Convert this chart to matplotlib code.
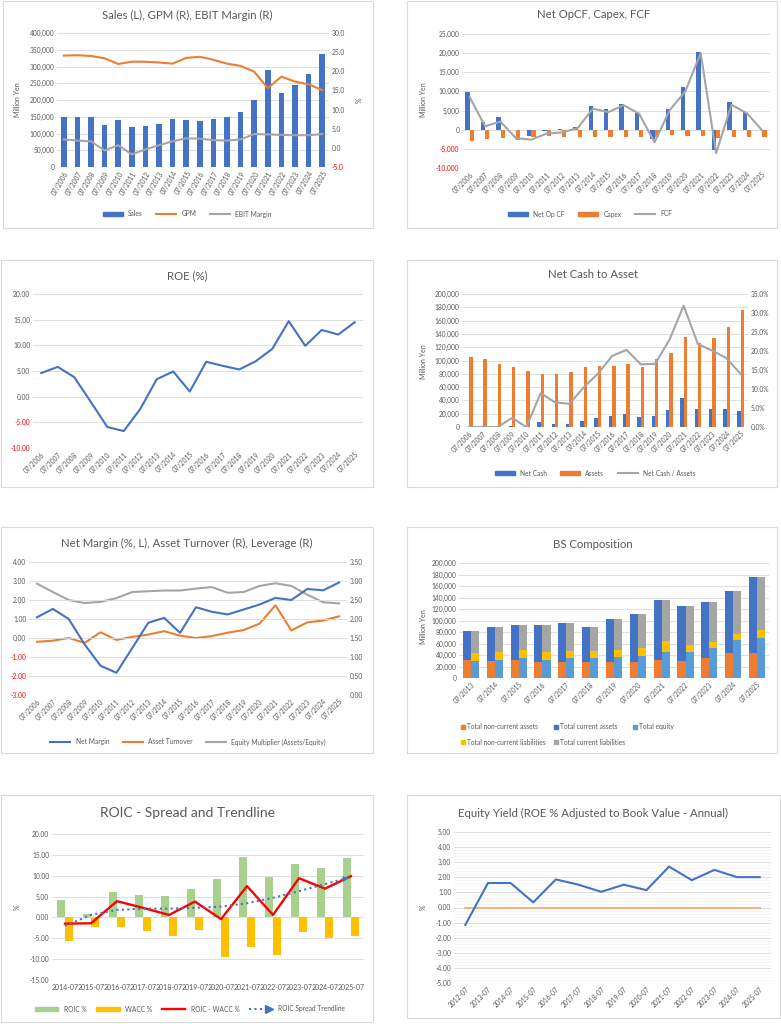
import numpy as np
import matplotlib
matplotlib.use('Agg')
import matplotlib.pyplot as plt
from matplotlib.patches import Rectangle, Patch
from matplotlib.lines import Line2D
from matplotlib.ticker import MultipleLocator
from matplotlib.legend_handler import HandlerBase

plt.rcParams['font.family'] = ['Lato', 'DejaVu Sans']

# ---- data ----
years = ['07/2006', '07/2007', '07/2008', '07/2009', '07/2010', '07/2011', '07/2012',
         '07/2013', '07/2014', '07/2015', '07/2016', '07/2017', '07/2018', '07/2019',
         '07/2020', '07/2021', '07/2022', '07/2023', '07/2024', '07/2025']

sales = [150000, 148000, 148000, 126000, 141000, 118000, 121000, 128000, 144000, 140000,
         138000, 144000, 150000, 164000, 200000, 291000, 222000, 246000, 277000, 337000]
gpm = [24.1, 24.2, 24.0, 23.4, 21.9, 22.5, 22.5, 22.3, 22.0, 23.5,
       23.8, 23.0, 22.0, 21.4, 19.9, 15.6, 18.6, 17.3, 16.6, 15.1]
ebit_margin = [2.2, 1.9, 1.7, -0.7, 0.7, -1.7, -0.4, 0.7, 1.7, 2.5,
               2.4, 2.0, 1.9, 2.2, 3.6, 3.5, 3.4, 3.3, 3.3, 3.6]

net_op_cf = [9900, 2000, 3300, 0, -1600, -300, 200, 600, 6100, 5300,
             6800, 4300, -2300, 5400, 11200, 20400, -5400, 7200, 4600, -200]
capex = [-2900, -2400, -2100, -2800, -2000, -1600, -1800, -2000, -2000, -1800,
         -2000, -2000, -1900, -1500, -1700, -1700, -2200, -2000, -2000, -2000]
fcf = [8500, 900, 2100, -2200, -2600, -1000, -700, 400, 5500, 4600,
       6400, 4200, -3300, 5200, 10000, 20000, -6100, 6500, 4300, -200]

roe = [4.6, 5.8, 3.8, -1.0, -5.9, -6.7, -2.4, 3.4, 4.9, 1.0,
       6.8, 6.0, 5.3, 6.9, 9.3, 14.7, 9.9, 13.0, 12.1, 14.5]

net_cash = [0, 0, 0, 1500, 0, 7500, 5000, 5000, 9500, 13000,
            17000, 19500, 15000, 17000, 25500, 43000, 27500, 27000, 27500, 24500]
assets = [106000, 102500, 94500, 90000, 83500, 79500, 79500, 82500, 89500, 91500,
          91500, 95000, 89500, 102000, 111000, 135000, 126000, 133500, 151000, 175500]
cash_to_assets = [0.0, 0.0, 0.0, 2.4, 0.0, 8.9, 6.5, 6.1, 10.4, 14.0,
                  18.7, 20.3, 16.5, 16.6, 22.9, 31.9, 21.8, 20.1, 18.1, 13.9]

net_margin = [1.09, 1.53, 1.00, -0.34, -1.46, -1.83, -0.52, 0.80, 1.06, 0.27,
              1.62, 1.38, 1.24, 1.50, 1.76, 2.11, 2.00, 2.58, 2.51, 2.92]
asset_turnover = [1.40, 1.43, 1.50, 1.37, 1.65, 1.45, 1.53, 1.59, 1.68, 1.56,
                  1.50, 1.55, 1.64, 1.71, 1.88, 2.36, 1.70, 1.91, 1.96, 2.07]
equity_mult = [2.93, 2.71, 2.50, 2.42, 2.45, 2.55, 2.71, 2.73, 2.75, 2.75,
               2.80, 2.84, 2.69, 2.71, 2.87, 2.94, 2.87, 2.64, 2.44, 2.41]

bs_years = ['07/2013', '07/2014', '07/2015', '07/2016', '07/2017', '07/2018', '07/2019',
            '07/2020', '07/2021', '07/2022', '07/2023', '07/2024', '07/2025']
non_current_assets = [30700, 30000, 30700, 27200, 28400, 28400, 28400, 27200, 31900, 29600, 34200, 44000, 42900]
current_assets = [51600, 59300, 60900, 64400, 66600, 60300, 74200, 84100, 103100, 95600, 98600, 106700, 132100]
total_equity = [30100, 31900, 34200, 30700, 34200, 34200, 35900, 38300, 44600, 45200, 51600, 65500, 70100]
non_current_liab = [12800, 13900, 14500, 15100, 13300, 13300, 13400, 13900, 19200, 12200, 11000, 11600, 12800]
current_liab = [39400, 43500, 42900, 45800, 47500, 41200, 53300, 59100, 71200, 67800, 70200, 73600, 92100]

roic_years = ['2014-07', '2015-07', '2016-07', '2017-07', '2018-07', '2019-07',
              '2020-07', '2021-07', '2022-07', '2023-07', '2024-07', '2025-07']
roic = [4.2, 0.8, 6.1, 5.4, 5.1, 6.8, 9.3, 14.4, 9.8, 12.8, 11.8, 14.2]
wacc = [-5.7, -2.2, -2.2, -3.2, -4.4, -3.0, -9.6, -7.0, -8.9, -3.4, -5.0, -4.4]
spread = [-1.5, -1.4, 3.9, 2.3, 0.6, 3.8, -0.4, 7.5, 0.6, 9.4, 6.9, 9.9]
trend = [-2.0, 0.6, 1.8, 2.1, 2.1, 2.3, 2.6, 3.4, 4.7, 6.3, 8.0, 9.7]

ey_years = ['2012-07', '2013-07', '2014-07', '2015-07', '2016-07', '2017-07', '2018-07',
            '2019-07', '2020-07', '2021-07', '2022-07', '2023-07', '2024-07', '2025-07']
equity_yield = [-1.15, 1.62, 1.62, 0.34, 1.86, 1.51, 1.04, 1.51, 1.15, 2.71, 1.81, 2.49, 2.01, 2.01]
ey_base = [0] * len(ey_years)

# ---- style ----
W, H = 781, 1024
BLUE = '#4472C4'
ORANGE = '#ED7D31'
GREY = '#A5A5A5'
YELLOW = '#FFC000'
LBLUE = '#5B9BD5'
GREEN = '#A9D18E'
TXT = '#595959'
GRID = '#D9D9D9'
TS = 4.8
TTL = 8.2

fig = plt.figure(figsize=(W / 100, H / 100), dpi=100)


def px_axes(x0, y0, x1, y1):
    return fig.add_axes([x0 / W, 1 - y1 / H, (x1 - x0) / W, (y1 - y0) / H])


def box(x0, y0, x1, y1):
    fig.add_artist(Rectangle((x0 / W, 1 - y1 / H), (x1 - x0) / W, (y1 - y0) / H,
                             transform=fig.transFigure, fill=False, ec='#D9D9D9', lw=0.8))


def ftext(x, y, s, size=TTL, rot=0):
    fig.text(x / W, 1 - y / H, s, ha='center', va='center', fontsize=size, color=TXT, rotation=rot)


def style(ax, grid=True):
    for s in ax.spines.values():
        s.set_visible(False)
    ax.tick_params(length=0, labelsize=TS, colors=TXT, pad=2)
    if grid:
        ax.grid(axis='y', color=GRID, lw=0.6)
    ax.set_axisbelow(True)


def yticks(ax, ticks, fmt):
    ax.set_ylim(ticks[0], ticks[-1])
    ax.set_yticks(ticks)
    ax.set_yticklabels([fmt.format(t) for t in ticks])
    for t, lab in zip(ticks, ax.get_yticklabels()):
        if t < 0:
            lab.set_color('red')


def xcats(ax, labels, rot=45):
    n = len(labels)
    ax.set_xlim(-0.5, n - 0.5)
    ax.set_xticks(np.arange(n))
    if rot:
        ax.set_xticklabels(labels, rotation=rot, ha='right', rotation_mode='anchor')
    else:
        ax.set_xticklabels(labels)


def flegend(handles, labels, x, y, ncol, **kw):
    fig.legend(handles, labels, loc='center', bbox_to_anchor=(x / W, 1 - y / H), ncol=ncol,
               frameon=False, fontsize=TS, labelcolor=TXT, **kw)


class ArrowHandler(HandlerBase):
    # dotted line ending in a triangle, like the Excel trendline legend key
    def create_artists(self, legend, orig_handle, xdescent, ydescent, width, height, fontsize, trans):
        y = height / 2 - ydescent
        line = Line2D([-xdescent, -xdescent + width * 0.78], [y, y], color=BLUE, lw=1.5,
                      ls=(0, (1, 1.6)), transform=trans)
        head = Line2D([-xdescent + width * 0.86], [y], marker='>', color=BLUE, ms=5.5, ls='',
                      transform=trans)
        return [line, head]


x20 = np.arange(len(years))

# ---- 1: Sales, GPM, EBIT margin ----
box(3, 1, 373, 228)
ax = px_axes(57, 33, 329, 167)
style(ax)
ax.bar(x20, sales, 0.42, color=BLUE)
yticks(ax, list(range(0, 400001, 50000)), '{:,.0f}')
xcats(ax, years, 60)
ax2 = ax.twinx()
style(ax2, grid=False)
ax2.plot(x20, gpm, color=ORANGE, lw=1.5)
ax2.plot(x20, ebit_margin, color=GREY, lw=1.5)
yticks(ax2, [-5, 0, 5, 10, 15, 20, 25, 30], '{:.1f}')
ftext(187, 15, 'Sales (L), GPM (R), EBIT Margin (R)')
ftext(17, 100, 'Million Yen', 5, 90)
ftext(359, 100, '%', 5, 90)
flegend([Patch(color=BLUE), Line2D([], [], color=ORANGE, lw=1.5), Line2D([], [], color=GREY, lw=1.5)],
        ['Sales', 'GPM', 'EBIT Margin'], 187, 214, 3, handlelength=3, handleheight=0.6, columnspacing=2)

# ---- 2: Net OpCF, Capex, FCF ----
box(407, 1, 777, 228)
ax = px_axes(462, 34, 770, 168)
style(ax)
ax.bar(x20 - 0.14, net_op_cf, 0.28, color=BLUE)
ax.bar(x20 + 0.14, capex, 0.28, color=ORANGE)
ax.plot(x20, fcf, color=GREY, lw=1.5)
yticks(ax, list(range(-10000, 25001, 5000)), '{:,.0f}')
xcats(ax, years, 45)
ftext(594, 15, 'Net OpCF, Capex, FCF')
ftext(423, 100, 'Million Yen', 5, 90)
flegend([Patch(color=BLUE), Patch(color=ORANGE), Line2D([], [], color=GREY, lw=1.5)],
        ['Net Op CF', 'Capex', 'FCF'], 590, 214, 3, handlelength=3, handleheight=0.6, columnspacing=2)

# ---- 3: ROE ----
box(1, 260, 373, 487)
ax = px_axes(33, 294, 363, 448)
style(ax)
ax.plot(x20, roe, color=BLUE, lw=1.5)
yticks(ax, [-10, -5, 0, 5, 10, 15, 20], '{:.2f}')
xcats(ax, years, 45)
ftext(187, 276, 'ROE (%)')

# ---- 4: Net cash to asset ----
box(407, 260, 777, 487)
ax = px_axes(462, 294, 748, 427)
style(ax)
ax.bar(x20 - 0.12, net_cash, 0.24, color=BLUE)
ax.bar(x20 + 0.12, assets, 0.24, color=ORANGE)
yticks(ax, list(range(0, 200001, 20000)), '{:,.0f}')
xcats(ax, years, 45)
ax2 = ax.twinx()
style(ax2, grid=False)
ax2.plot(x20, cash_to_assets, color=GREY, lw=1.5)
yticks(ax2, [0, 5, 10, 15, 20, 25, 30, 35], '{:.1f}%')
ftext(593, 274, 'Net Cash to Asset')
ftext(424, 362, 'Million Yen', 5, 90)
flegend([Patch(color=BLUE), Patch(color=ORANGE), Line2D([], [], color=GREY, lw=1.5)],
        ['Net Cash', 'Assets', 'Net Cash / Assets'], 595, 473, 3, handlelength=3, handleheight=0.6,
        columnspacing=2)

# ---- 5: Net margin / turnover / leverage ----
box(1, 527, 373, 753)
ax = px_axes(29, 562, 347, 695)
style(ax)
ax.plot(x20, net_margin, color=BLUE, lw=1.5)
yticks(ax, [-3, -2, -1, 0, 1, 2, 3, 4], '{:.2f}')
xcats(ax, years, 45)
ax2 = ax.twinx()
style(ax2, grid=False)
ax2.plot(x20, asset_turnover, color=ORANGE, lw=1.5)
ax2.plot(x20, equity_mult, color=GREY, lw=1.5)
yticks(ax2, [0, 0.5, 1.0, 1.5, 2.0, 2.5, 3.0, 3.5], '{:.2f}')
ax.set_zorder(ax2.get_zorder() + 1)
ax.patch.set_visible(False)
ftext(187, 543, 'Net Margin (%, L), Asset Turnover (R), Leverage (R)')
flegend([Line2D([], [], color=BLUE, lw=1.5), Line2D([], [], color=ORANGE, lw=1.5),
         Line2D([], [], color=GREY, lw=1.5)],
        ['Net Margin', 'Asset Turnover', 'Equity Multiplier (Assets/Equity)'], 188, 742, 3,
        handlelength=3, columnspacing=2)

# ---- 6: BS composition ----
box(407, 527, 777, 753)
ax = px_axes(459, 563, 769, 678)
style(ax)
xb = np.arange(len(bs_years))
ax.bar(xb - 0.17, non_current_assets, 0.34, color=ORANGE)
ax.bar(xb - 0.17, current_assets, 0.34, bottom=non_current_assets, color=BLUE)
ax.bar(xb + 0.17, total_equity, 0.34, color=LBLUE)
b2 = np.array(total_equity) + np.array(non_current_liab)
ax.bar(xb + 0.17, non_current_liab, 0.34, bottom=total_equity, color=YELLOW)
ax.bar(xb + 0.17, current_liab, 0.34, bottom=b2, color=GREY)
yticks(ax, list(range(0, 200001, 20000)), '{:,.0f}')
xcats(ax, bs_years, 45)
ftext(593, 544, 'BS Composition')
ftext(423, 627, 'Million Yen', 5, 90)
hs = [Patch(color=ORANGE), Patch(color=YELLOW), Patch(color=BLUE), Patch(color=GREY), Patch(color=LBLUE)]
ls = ['Total non-current assets', 'Total non-current liabilities', 'Total current assets',
      'Total current liabilities', 'Total equity']
fig.legend(hs, ls, loc='upper left', bbox_to_anchor=(455 / W, 1 - 717 / H), ncol=3, frameon=False,
           fontsize=TS, labelcolor=TXT, handlelength=0.6, handleheight=0.6, handletextpad=0.3,
           columnspacing=1.2, labelspacing=1.3)

# ---- 7: ROIC spread ----
box(1, 795, 373, 1022)
ax = px_axes(52, 834, 364, 980)
style(ax)
xr = np.arange(len(roic_years))
ax.bar(xr - 0.145, roic, 0.29, color=GREEN)
ax.bar(xr + 0.145, wacc, 0.29, color=YELLOW)
ax.plot(xr, spread, color='red', lw=1.7)
ax.plot(xr, trend, color=BLUE, lw=1.5, ls=(0, (1, 1.6)))
ax.annotate('', xy=(xr[-1], trend[-1]), xytext=(xr[-2] + 0.45, (trend[-2] + trend[-1]) / 2),
            arrowprops=dict(arrowstyle='-|>', color=BLUE, lw=0, mutation_scale=10))
yticks(ax, [-15, -10, -5, 0, 5, 10, 15, 20], '{:.2f}')
for lab in ax.get_yticklabels():
    lab.set_color(TXT)
xcats(ax, roic_years, 0)
ax.tick_params(axis='x', labelsize=5.0, pad=3)
ftext(187, 813, 'ROIC - Spread and Trendline', 10)
ftext(17, 907, '%', 5, 90)
trend_h = Line2D([], [], color=BLUE)
flegend([Patch(color=GREEN), Patch(color=YELLOW), Line2D([], [], color='red', lw=1.7), trend_h],
        ['ROIC %', 'WACC %', 'ROIC - WACC %', 'ROIC Spread Trendline'], 190, 1009, 4,
        handlelength=3.5, handleheight=0.6, columnspacing=1.5,
        handler_map={trend_h: ArrowHandler()})

# ---- 8: Equity yield ----
box(407, 795, 780, 1018)
ax = px_axes(454, 832, 771, 983)
style(ax)
xe = np.arange(len(ey_years))
ax.yaxis.set_minor_locator(MultipleLocator(0.2))
ax.grid(axis='y', which='minor', color='#EFEFEF', lw=0.4)
ax.tick_params(axis='y', which='minor', length=0)
ax.plot(xe, ey_base, color='#F4B183', lw=1.5)
ax.plot(xe, equity_yield, color=BLUE, lw=1.5)
yticks(ax, [-5, -4, -3, -2, -1, 0, 1, 2, 3, 4, 5], '{:.2f}')
for lab in ax.get_yticklabels():
    lab.set_color(TXT)
xcats(ax, ey_years, 45)
ftext(593, 813, 'Equity Yield (ROE % Adjusted to Book Value - Annual)')
ftext(423, 907, '%', 5, 90)

fig.savefig('out.png', dpi=100, facecolor='white')
